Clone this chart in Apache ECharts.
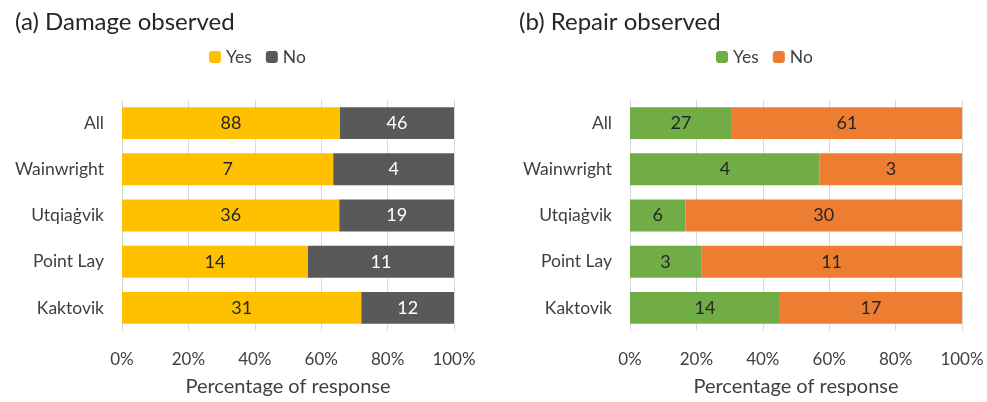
<!DOCTYPE html>
<html>
<head>
<meta charset="utf-8">
<title>Damage and repair observed</title>
<script src="https://cdn.jsdelivr.net/npm/echarts@6/dist/echarts.min.js"></script>
<style>
  html, body { margin: 0; padding: 0; background: #fff; }
</style>
</head>
<body>
<div id="main" style="width: 987px; height: 402px;"></div>
<script type="text/javascript">
// categories, top to bottom
var places = ['All', 'Wainwright', 'Utqiaġvik', 'Point Lay', 'Kaktovik'];
// response counts
var damageYes = [88, 7, 36, 14, 31];
var damageNo = [46, 4, 19, 11, 12];
var repairYes = [27, 4, 6, 3, 14];
var repairNo = [61, 3, 30, 11, 17];
var pctTicks = ['0%', '20%', '40%', '60%', '80%', '100%'];

var FONT = 'Lato, "Open Sans", sans-serif';

// turn counts into percentage of response
function share(a, b, i) {
  return a[i] / (a[i] + b[i]) * 100;
}
function pctData(a, b) {
  return a.map(function (v, i) {
    return { value: share(a, b, i), count: v };
  });
}

function xAxisFor(idx) {
  return {
    gridIndex: idx,
    type: 'value',
    min: 0, max: 100, interval: 20,
    name: 'Percentage of response',
    nameLocation: 'middle',
    nameGap: 46,
    nameTextStyle: { fontFamily: FONT, fontSize: 20, color: '#404040' },
    axisLine: { show: false },
    axisTick: { show: false },
    axisLabel: {
      fontFamily: FONT, fontSize: 17, color: '#404040', margin: 20,
      formatter: function (v) { return pctTicks[v / 20]; }
    },
    splitLine: { show: true, lineStyle: { color: '#d9d9d9', width: 1 } }
  };
}
function yAxisFor(idx) {
  return {
    gridIndex: idx,
    type: 'category',
    data: places,
    inverse: true,
    axisLine: { show: false },
    axisTick: { show: false },
    axisLabel: { fontFamily: FONT, fontSize: 17.5, color: '#404040', margin: 18 }
  };
}
function barSeries(name, stack, idx, data, color, labelColor) {
  return {
    name: name,
    type: 'bar',
    stack: stack,
    xAxisIndex: idx,
    yAxisIndex: idx,
    barWidth: '69%',
    data: data,
    itemStyle: { color: color },
    label: {
      show: true,
      position: 'inside',
      fontFamily: FONT,
      fontSize: 18,
      color: labelColor,
      formatter: function (p) { return p.data.count; }
    }
  };
}

var myChart = echarts.init(document.getElementById('main'));
myChart.setOption({
  animation: false,
  title: [
    { text: '(a) Damage observed', left: 10, top: 5,
      textStyle: { fontFamily: FONT, fontSize: 24, fontWeight: 'normal', color: '#262626' } },
    { text: '(b) Repair observed', left: 514, top: 5,
      textStyle: { fontFamily: FONT, fontSize: 24, fontWeight: 'normal', color: '#262626' } }
  ],
  legend: [
    { data: ['Damage Yes', 'Damage No'], left: 204, top: 43, itemWidth: 12, itemHeight: 12, itemGap: 14,
      textStyle: { fontFamily: FONT, fontSize: 17.5, color: '#404040' },
      formatter: function (n) { return n.replace('Damage ', ''); } },
    { data: ['Repair Yes', 'Repair No'], left: 711, top: 43, itemWidth: 12, itemHeight: 12, itemGap: 14,
      textStyle: { fontFamily: FONT, fontSize: 17.5, color: '#404040' },
      formatter: function (n) { return n.replace('Repair ', ''); } }
  ],
  grid: [
    { left: 122, width: 332, top: 100, height: 232 },
    { left: 630, width: 332, top: 100, height: 232 }
  ],
  xAxis: [xAxisFor(0), xAxisFor(1)],
  yAxis: [yAxisFor(0), yAxisFor(1)],
  series: [
    barSeries('Damage Yes', 'dmg', 0, pctData(damageYes, damageNo), '#FFC000', '#262626'),
    barSeries('Damage No', 'dmg', 0, pctData(damageNo, damageYes), '#595959', '#ffffff'),
    barSeries('Repair Yes', 'rep', 1, pctData(repairYes, repairNo), '#70AD47', '#262626'),
    barSeries('Repair No', 'rep', 1, pctData(repairNo, repairYes), '#ED7D31', '#262626')
  ]
});
</script>
</body>
</html>
